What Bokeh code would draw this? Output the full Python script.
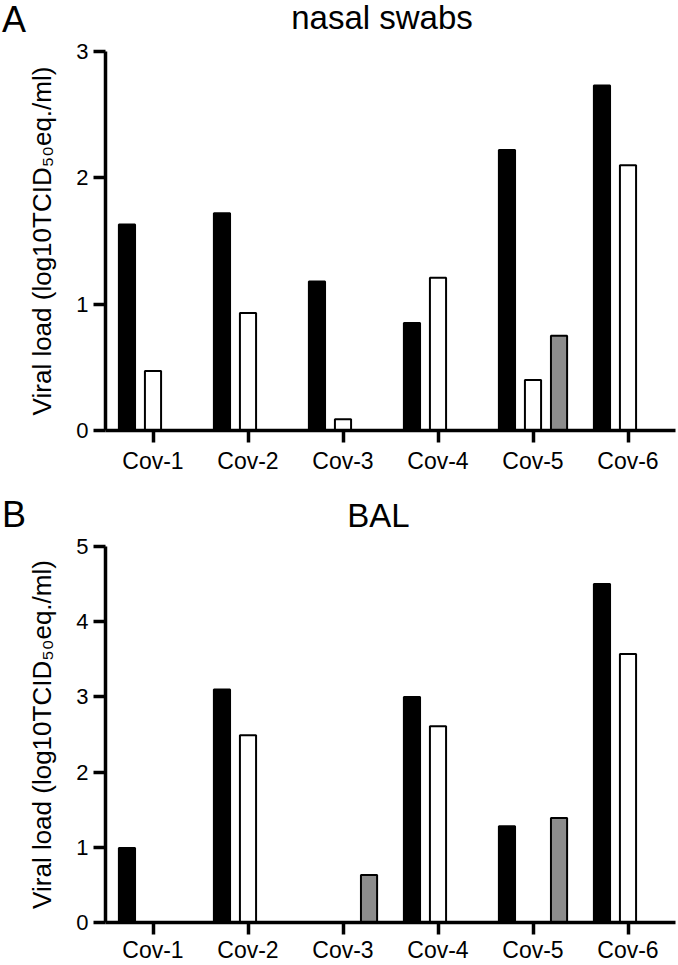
from bokeh.plotting import figure
from bokeh.models import ColumnDataSource, Range1d, FactorRange, FixedTicker, Label
from bokeh.transform import dodge
from bokeh.layouts import column
from bokeh.embed import file_html
from bokeh.resources import INLINE

# ---------------- data ----------------
patients = ["Cov-1", "Cov-2", "Cov-3", "Cov-4", "Cov-5", "Cov-6"]

nasal_black = [1.63, 1.72, 1.18, 0.85, 2.22, 2.73]
nasal_white = [0.47, 0.93, 0.09, 1.21, 0.40, 2.10]
nasal_gray = [None, None, None, None, 0.75, None]

bal_black = [0.99, 3.10, None, 3.00, 1.28, 4.50]
bal_white = [None, 2.49, None, 2.61, None, 3.57]
bal_gray = [None, None, 0.63, None, 1.39, None]

nasal_ticks = [0, 1, 2, 3]
bal_ticks = [0, 1, 2, 3, 4, 5]

titles = ["nasal swabs", "BAL"]
letters = ["A", "B"]
y_label = "Viral load (log10TCID\u2085\u2080eq./ml)"
FONT = "Liberation Sans"
W = 678


def make_panel(black, white, gray, ymax, ticks, height, top_border, bottom_border,
               x_standoff, title, letter, title_pos, letter_pos):
    p = figure(width=W, height=height, output_backend="svg", toolbar_location=None,
               x_range=FactorRange(*patients), y_range=Range1d(0, ymax),
               min_border_left=105, min_border_right=3,
               min_border_top=top_border, min_border_bottom=bottom_border)
    p.outline_line_color = None
    p.xgrid.grid_line_color = None
    p.ygrid.grid_line_color = None
    p.background_fill_color = "white"
    p.border_fill_color = "white"

    series = [(black, -0.274, "black"), (white, 0.0, "white"), (gray, 0.274, "#8c8c8c")]
    for vals, off, col in series:
        xs = [c for c, v in zip(patients, vals) if v is not None]
        ys = [v for v in vals if v is not None]
        src = ColumnDataSource(dict(patient=xs, value=ys))
        p.vbar(x=dodge("patient", off, range=p.x_range), top="value", bottom=0,
               width=0.17, source=src, fill_color=col, line_color="black",
               line_width=2)

    for ax in (p.xaxis[0], p.yaxis[0]):
        ax.axis_line_width = 3.5
        ax.axis_line_color = "black"
        ax.major_tick_line_width = 3.5
        ax.major_tick_line_color = "black"
        ax.major_tick_out = 12
        ax.major_tick_in = 0
        ax.minor_tick_line_color = None
        ax.major_label_text_font = FONT
        ax.major_label_text_color = "black"

    p.xaxis.major_label_text_font_size = "23px"
    p.xaxis.major_label_standoff = x_standoff
    p.yaxis.ticker = FixedTicker(ticks=ticks)
    p.yaxis.major_label_text_font_size = "22px"
    p.yaxis.major_label_standoff = 5
    p.yaxis.axis_label = y_label
    p.yaxis.axis_label_text_font = FONT
    p.yaxis.axis_label_text_font_size = "26px"
    p.yaxis.axis_label_text_font_style = "normal"
    p.yaxis.axis_label_text_color = "black"
    p.yaxis.axis_label_standoff = 16

    # panel title above the frame, panel letter in the left margin
    p.add_layout(Label(x=title_pos[0], y=title_pos[1], x_units="screen", y_units="screen",
                       text=title, text_font=FONT, text_font_size="33px",
                       text_align="center", text_baseline="alphabetic",
                       text_color="black"), "above")
    p.add_layout(Label(x=letter_pos[0], y=letter_pos[1], x_units="screen", y_units="screen",
                       text=letter, text_font=FONT, text_font_size="36px",
                       text_align="left", text_baseline="alphabetic",
                       text_color="black"), "left")
    return p


pA = make_panel(nasal_black, nasal_white, nasal_gray, 3, nasal_ticks, 478, 51, 48, 5,
                titles[0], letters[0], (276.5, 34.1), (1.5, 411.5))
pB = make_panel(bal_black, bal_white, bal_gray, 5, bal_ticks, 487, 68, 41, 2,
                titles[1], letters[1], (273, 30.7), (1.5, 408.2))

layout = column(pA, pB, spacing=0)
open("out.html", "w").write(file_html(layout, INLINE))
